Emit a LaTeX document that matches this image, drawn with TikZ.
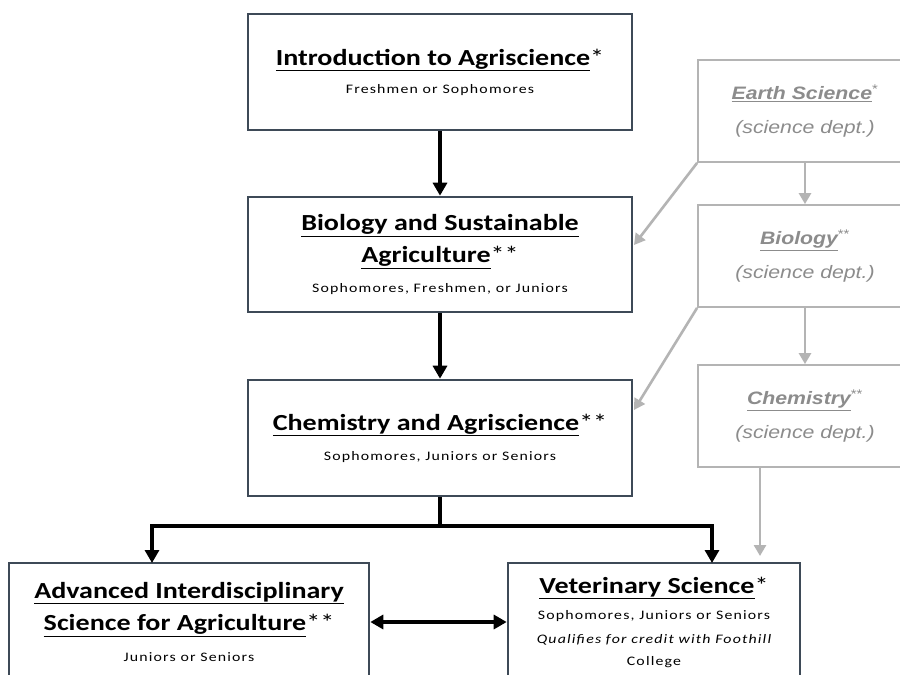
\documentclass[tikz,border=0pt]{standalone}
\usepackage{fontspec}
\setmainfont{Carlito}[FakeStretch=1.22]
\newfontfamily\arialf{Liberation Sans}[FakeStretch=1.18]
\usetikzlibrary{arrows.meta,calc}
\definecolor{boxline}{HTML}{3E4A57}
\definecolor{sgray}{HTML}{B4B4B4}
\definecolor{stext}{HTML}{8C8C8C}
\newcommand{\ttl}[1]{{\bfseries #1}}
\newcommand{\sub}[1]{{\fontsize{13}{16}\addfontfeatures{LetterSpace=9}\selectfont #1}}
\begin{document}
\begin{tikzpicture}[x=1pt,y=-1pt,
  mainbox/.style={draw=boxline,line width=2.6pt,fill=white,rectangle,inner sep=0pt,align=center,
     font=\fontsize{23}{31}\selectfont},
  scibox/.style={draw=sgray,line width=1.8pt,fill=white,rectangle,inner sep=0pt,align=center,text=stext,
     font=\arialf\fontsize{18}{34}\selectfont},
  arr/.style={line width=3.2pt,-{Triangle[length=13pt,width=14pt]}},
  darr/.style={line width=3.2pt,{Triangle[length=13pt,width=14pt]}-{Triangle[length=13pt,width=14pt]}},
  garr/.style={draw=sgray,line width=2.6pt,-{Triangle[length=11pt,width=12pt]}}]
\useasboundingbox (0,0) rectangle (900,675);
\clip (0,0) rectangle (900,675);
\fill[white] (0,0) rectangle (900,675);

\node[mainbox,minimum width=384pt,minimum height=116pt] (intro) at (440,72)
  {\ttl{\underline{Introduction to Agriscience}}*\\[-3pt]\sub{Freshmen or Sophomores}};
\node[mainbox,minimum width=384pt,minimum height=115pt] (bio) at (440,254.5)
  {\ttl{\underline{Biology and Sustainable}}\\[1pt]\ttl{\underline{Agriculture}}**\\[-1pt]\sub{Sophomores, Freshmen, or Juniors}};
\node[mainbox,minimum width=384pt,minimum height=116pt] (chem) at (440,438)
  {\ttl{\underline{Chemistry and Agriscience}}**\\[-1pt]\sub{Sophomores, Juniors or Seniors}};
\node[mainbox,minimum width=360pt,minimum height=118pt] (adv) at (189,622)
  {\ttl{\underline{Advanced Interdisciplinary}}\\[1pt]\ttl{\underline{Science for Agriculture}}**\\[0pt]\sub{Juniors or Seniors}};
\node[mainbox,minimum width=292pt,minimum height=118pt] (vet) at (654,622)
  {\ttl{\underline{Veterinary Science}}*\\[-5pt]\sub{Sophomores, Juniors or Seniors}\\[-7pt]
   \sub{\itshape Qualifies for credit with Foothill}\\[-9pt]\sub{College}};

\node[scibox,minimum width=214pt,minimum height=102pt] (earth) at (805,111)
  {\underline{\bfseries\itshape Earth Science}\textsuperscript{*}\\\itshape (science dept.)};
\node[scibox,minimum width=214pt,minimum height=102pt] (sbio) at (805,256)
  {\underline{\bfseries\itshape Biology}\textsuperscript{**}\\\itshape (science dept.)};
\node[scibox,minimum width=214pt,minimum height=102pt] (schem) at (805,416)
  {\underline{\bfseries\itshape Chemistry}\textsuperscript{**}\\\itshape (science dept.)};

\coordinate (split) at (440,526);
\coordinate (advin) at (152,563);
\coordinate (vetin) at (712,563);
\coordinate (schemout) at (760,467);
\coordinate (schemend) at (760,556);
\coordinate (biotip) at (634,245);
\coordinate (chemtip) at (634,410);

\draw[arr] (intro.south) -- (bio.north);
\draw[arr] (bio.south) -- (chem.north);
\draw[line width=3.2pt] (chem.south) -- (split);
\draw[arr] (split) -| (advin);
\draw[arr] (split) -| (vetin);
\draw[darr] (adv.east) -- (vet.west);

\draw[garr] (earth.south west) -- (biotip);
\draw[garr] (sbio.south west) -- (chemtip);
\draw[garr] (earth.south) -- (sbio.north);
\draw[garr] (sbio.south) -- (schem.north);
\draw[garr] (schemout) -- (schemend);
\end{tikzpicture}
\end{document}
